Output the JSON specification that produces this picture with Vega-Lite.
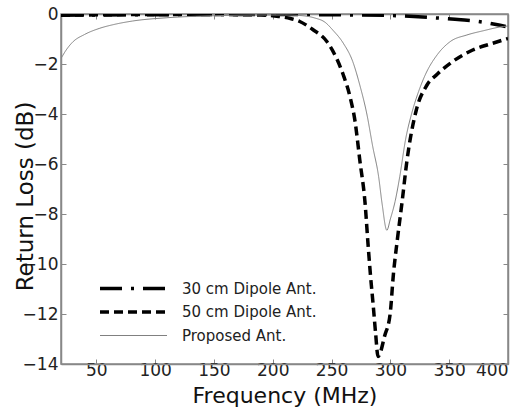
{
  "$schema": "https://vega.github.io/schema/vega-lite/v6.json",
  "width": 447,
  "height": 350,
  "autosize": {"type": "none"},
  "padding": {"left": 61, "top": 14, "right": 17, "bottom": 50},
  "background": "white",
  "config": {
    "font": "DejaVu Sans",
    "view": {"stroke": "#888", "strokeWidth": 1.5},
    "axis": {
      "grid": false,
      "domainColor": "#888",
      "domainWidth": 1.5,
      "tickColor": "#888",
      "tickSize": -5,
      "labelColor": "#222",
      "labelFontSize": 17,
      "labelFont": "DejaVu Sans",
      "titleFont": "DejaVu Sans",
      "titleFontWeight": "normal",
      "titleColor": "#111"
    },
    "legend": {
      "orient": "none",
      "legendX": 37,
      "legendY": 266,
      "padding": 0,
      "symbolType": "stroke",
      "symbolSize": 4489,
      "clipHeight": 17,
      "labelFontSize": 15,
      "labelFont": "DejaVu Sans",
      "labelColor": "#222",
      "labelOffset": 13,
      "rowPadding": 6.5,
      "title": null
    }
  },
  "data": {
    "values": [
      {"f": 20, "s": "30 cm Dipole Ant.", "v": -0.05},
      {"f": 50, "s": "30 cm Dipole Ant.", "v": -0.04},
      {"f": 100, "s": "30 cm Dipole Ant.", "v": -0.03},
      {"f": 150, "s": "30 cm Dipole Ant.", "v": -0.02},
      {"f": 200, "s": "30 cm Dipole Ant.", "v": -0.02},
      {"f": 250, "s": "30 cm Dipole Ant.", "v": -0.03},
      {"f": 300, "s": "30 cm Dipole Ant.", "v": -0.06},
      {"f": 320, "s": "30 cm Dipole Ant.", "v": -0.1},
      {"f": 340, "s": "30 cm Dipole Ant.", "v": -0.16},
      {"f": 360, "s": "30 cm Dipole Ant.", "v": -0.23},
      {"f": 375, "s": "30 cm Dipole Ant.", "v": -0.3},
      {"f": 390, "s": "30 cm Dipole Ant.", "v": -0.42},
      {"f": 398, "s": "30 cm Dipole Ant.", "v": -0.5},

      {"f": 20, "s": "50 cm Dipole Ant.", "v": -0.05},
      {"f": 100, "s": "50 cm Dipole Ant.", "v": -0.02},
      {"f": 150, "s": "50 cm Dipole Ant.", "v": -0.02},
      {"f": 190, "s": "50 cm Dipole Ant.", "v": -0.04},
      {"f": 205, "s": "50 cm Dipole Ant.", "v": -0.1},
      {"f": 215, "s": "50 cm Dipole Ant.", "v": -0.18},
      {"f": 223, "s": "50 cm Dipole Ant.", "v": -0.3},
      {"f": 234, "s": "50 cm Dipole Ant.", "v": -0.62},
      {"f": 246, "s": "50 cm Dipole Ant.", "v": -1.1},
      {"f": 254, "s": "50 cm Dipole Ant.", "v": -1.75},
      {"f": 260, "s": "50 cm Dipole Ant.", "v": -2.44},
      {"f": 266, "s": "50 cm Dipole Ant.", "v": -3.37},
      {"f": 270, "s": "50 cm Dipole Ant.", "v": -4.3},
      {"f": 274, "s": "50 cm Dipole Ant.", "v": -5.84},
      {"f": 278.5, "s": "50 cm Dipole Ant.", "v": -7.57},
      {"f": 281, "s": "50 cm Dipole Ant.", "v": -9.2},
      {"f": 283, "s": "50 cm Dipole Ant.", "v": -10.4},
      {"f": 285.5, "s": "50 cm Dipole Ant.", "v": -11.7},
      {"f": 287.5, "s": "50 cm Dipole Ant.", "v": -12.8},
      {"f": 289.5, "s": "50 cm Dipole Ant.", "v": -13.7},
      {"f": 291, "s": "50 cm Dipole Ant.", "v": -13.6},
      {"f": 295, "s": "50 cm Dipole Ant.", "v": -12.9},
      {"f": 299.8, "s": "50 cm Dipole Ant.", "v": -12.0},
      {"f": 302.6, "s": "50 cm Dipole Ant.", "v": -10.4},
      {"f": 306, "s": "50 cm Dipole Ant.", "v": -9.0},
      {"f": 310, "s": "50 cm Dipole Ant.", "v": -7.5},
      {"f": 314, "s": "50 cm Dipole Ant.", "v": -5.9},
      {"f": 322, "s": "50 cm Dipole Ant.", "v": -3.85},
      {"f": 331, "s": "50 cm Dipole Ant.", "v": -2.85},
      {"f": 340, "s": "50 cm Dipole Ant.", "v": -2.4},
      {"f": 353, "s": "50 cm Dipole Ant.", "v": -1.9},
      {"f": 370, "s": "50 cm Dipole Ant.", "v": -1.44},
      {"f": 387, "s": "50 cm Dipole Ant.", "v": -1.17},
      {"f": 400, "s": "50 cm Dipole Ant.", "v": -0.98},

      {"f": 20, "s": "Proposed Ant.", "v": -1.78},
      {"f": 25, "s": "Proposed Ant.", "v": -1.4},
      {"f": 30, "s": "Proposed Ant.", "v": -1.12},
      {"f": 40, "s": "Proposed Ant.", "v": -0.82},
      {"f": 53, "s": "Proposed Ant.", "v": -0.57},
      {"f": 65, "s": "Proposed Ant.", "v": -0.42},
      {"f": 81, "s": "Proposed Ant.", "v": -0.28},
      {"f": 110, "s": "Proposed Ant.", "v": -0.15},
      {"f": 150, "s": "Proposed Ant.", "v": -0.07},
      {"f": 190, "s": "Proposed Ant.", "v": -0.04},
      {"f": 210, "s": "Proposed Ant.", "v": -0.04},
      {"f": 223, "s": "Proposed Ant.", "v": -0.06},
      {"f": 235, "s": "Proposed Ant.", "v": -0.15},
      {"f": 245, "s": "Proposed Ant.", "v": -0.35},
      {"f": 251, "s": "Proposed Ant.", "v": -0.64},
      {"f": 260, "s": "Proposed Ant.", "v": -1.17},
      {"f": 268, "s": "Proposed Ant.", "v": -1.9},
      {"f": 274, "s": "Proposed Ant.", "v": -2.84},
      {"f": 280, "s": "Proposed Ant.", "v": -4.0},
      {"f": 285, "s": "Proposed Ant.", "v": -5.3},
      {"f": 290, "s": "Proposed Ant.", "v": -6.5},
      {"f": 293, "s": "Proposed Ant.", "v": -7.6},
      {"f": 297, "s": "Proposed Ant.", "v": -8.65},
      {"f": 300, "s": "Proposed Ant.", "v": -8.2},
      {"f": 304, "s": "Proposed Ant.", "v": -7.5},
      {"f": 308, "s": "Proposed Ant.", "v": -6.5},
      {"f": 313, "s": "Proposed Ant.", "v": -5.0},
      {"f": 318, "s": "Proposed Ant.", "v": -4.0},
      {"f": 324, "s": "Proposed Ant.", "v": -3.1},
      {"f": 330, "s": "Proposed Ant.", "v": -2.4},
      {"f": 340, "s": "Proposed Ant.", "v": -1.62},
      {"f": 351, "s": "Proposed Ant.", "v": -1.1},
      {"f": 365, "s": "Proposed Ant.", "v": -0.84},
      {"f": 379, "s": "Proposed Ant.", "v": -0.67},
      {"f": 396, "s": "Proposed Ant.", "v": -0.5},
      {"f": 400, "s": "Proposed Ant.", "v": -0.48}
    ]
  },
  "layer": [
    {
      "mark": {"type": "line", "clip": true, "interpolate": "monotone"},
      "encoding": {
        "x": {
          "field": "f", "type": "quantitative",
          "scale": {"domain": [20, 400], "nice": false},
          "axis": {"values": [50, 100, 150, 200, 250, 300, 350, 400], "title": "Frequency (MHz)", "labelPadding": 3, "titleFontSize": 22, "titleBaseline": "alphabetic", "titleY": 38}
        },
        "y": {
          "field": "v", "type": "quantitative",
          "scale": {"domain": [-14, 0], "nice": false},
          "axis": {"values": [0, -2, -4, -6, -8, -10, -12, -14], "title": "Return Loss (dB)", "labelPadding": 8, "titleFontSize": 23, "titleBaseline": "alphabetic", "titleX": -29, "titleY": 182}
        },
        "color": {
          "field": "s", "type": "nominal",
          "scale": {"domain": ["30 cm Dipole Ant.", "50 cm Dipole Ant.", "Proposed Ant."], "range": ["#000000", "#000000", "#808080"]}
        },
        "strokeDash": {
          "field": "s", "type": "nominal",
          "scale": {"domain": ["30 cm Dipole Ant.", "50 cm Dipole Ant.", "Proposed Ant."], "range": [[22, 9, 3, 9], [9, 5], [1, 0]]}
        },
        "strokeWidth": {
          "field": "s", "type": "nominal",
          "scale": {"type": "ordinal", "domain": ["30 cm Dipole Ant.", "50 cm Dipole Ant.", "Proposed Ant."], "range": [3.5, 3.5, 1]}
        }
      }
    },
    {
      "mark": {"type": "point", "opacity": 0},
      "encoding": {
        "x": {
          "field": "f", "type": "quantitative",
          "axis": {"orient": "top", "values": [50, 100, 150, 200, 250, 300, 350, 400], "labels": false, "title": null}
        },
        "y": {
          "field": "v", "type": "quantitative",
          "axis": {"orient": "right", "values": [0, -2, -4, -6, -8, -10, -12, -14], "labels": false, "title": null}
        }
      }
    }
  ],
  "resolve": {"axis": {"x": "independent", "y": "independent"}}
}
